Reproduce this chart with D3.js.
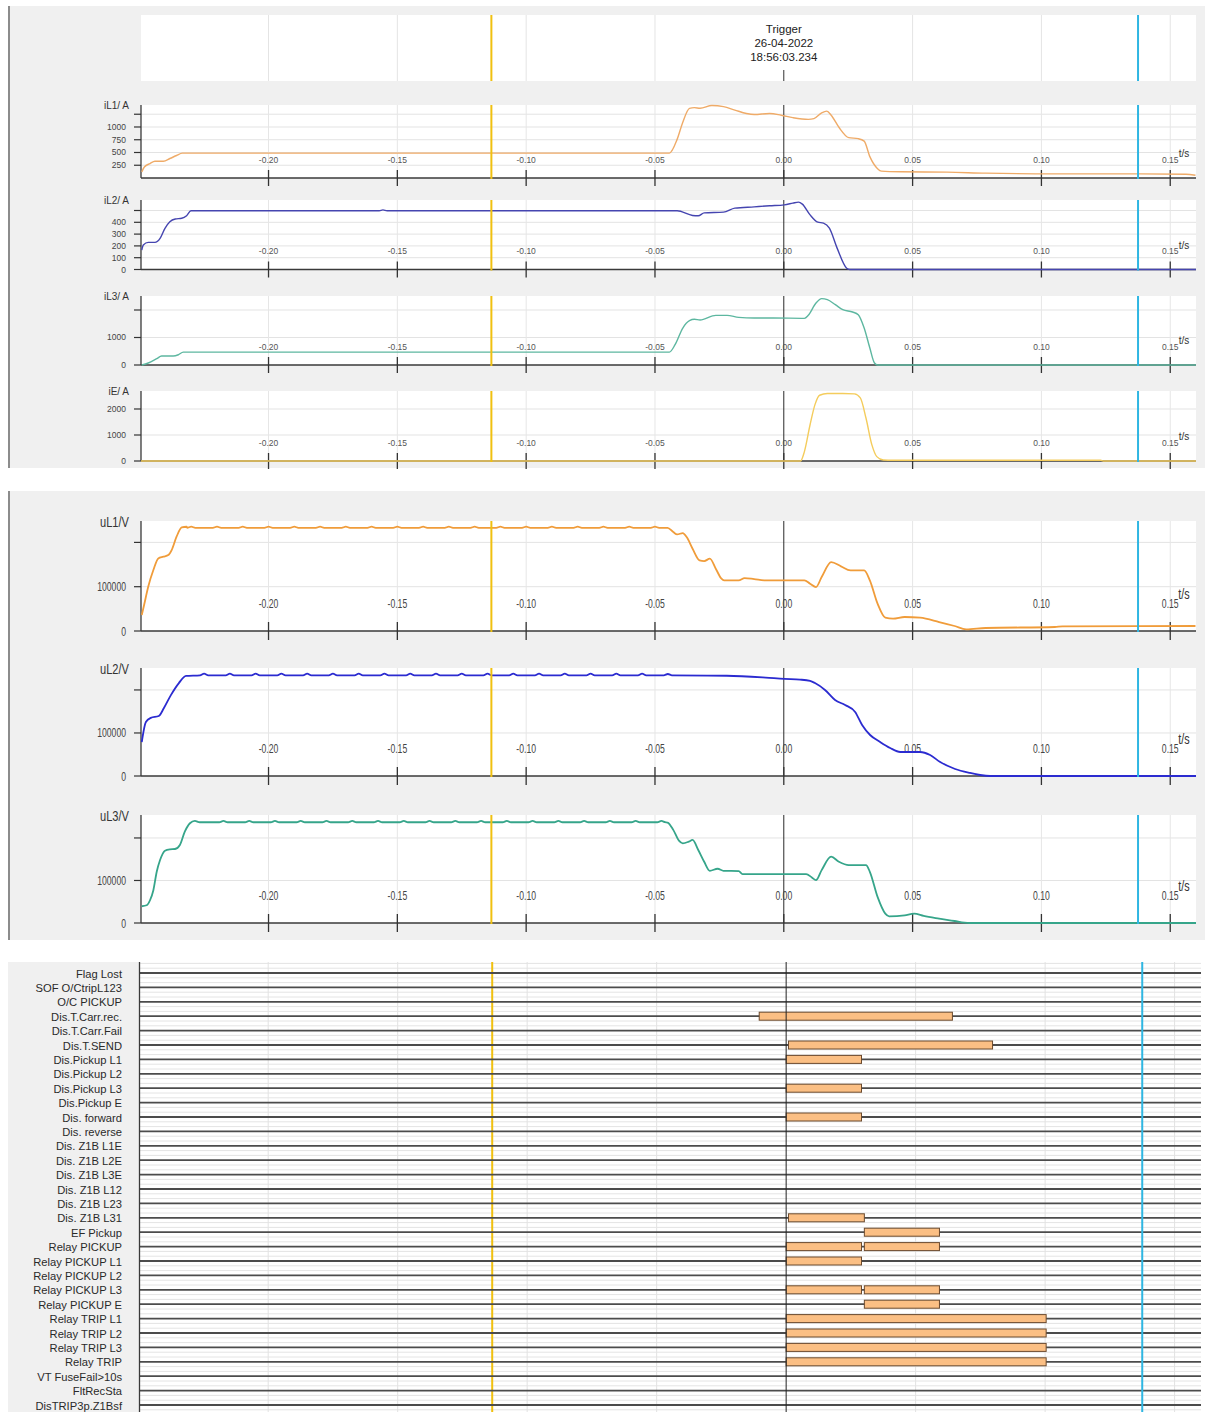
<!DOCTYPE html>
<html><head><meta charset="utf-8">
<script src="https://cdn.jsdelivr.net/npm/d3@7"></script>
<style>
body{margin:0;background:#fff}
svg{display:block;font-family:Arial,"Liberation Sans",Helvetica,sans-serif}
</style>
</head><body>
<svg id="rec" width="1205" height="1412"></svg>
<script>
// ---- time axis (seconds relative to trigger) ----
const timeDomain = [-0.2495, 0.1600];
const timeTicks = [-0.20, -0.15, -0.10, -0.05, 0.00, 0.05, 0.10, 0.15];
const timeTickLabels = ["-0.20", "-0.15", "-0.10", "-0.05", "0.00", "0.05", "0.10", "0.15"];
const cursorYellow = -0.1135;
const cursorCyan = 0.1375;
const triggerLines = ["Trigger", "26-04-2022", "18:56:03.234"];

// ---- analog channels: [t (s), RMS value] ----
const iL1 = [[-0.2492,118],[-0.2482,217],[-0.2460,284],[-0.2441,329],[-0.2408,329],[-0.2383,382],[-0.2357,441],[-0.2335,488],
  [-0.0444,488],[-0.0414,757],[-0.0392,1095],[-0.0366,1366],[-0.0347,1379],[-0.0325,1366],[-0.0279,1420],[-0.0234,1399],
  [-0.0190,1332],[-0.0145,1264],[-0.0115,1244],[-0.0055,1264],[-0.0010,1230],[0.0035,1183],[0.0095,1149],[0.0117,1163],
  [0.0147,1278],[0.0167,1311],[0.0184,1230],[0.0214,994],[0.0252,791],[0.0289,771],[0.0312,723],[0.0334,419],[0.0364,183],
  [0.0379,135],[0.0454,122],[0.0633,115],[0.0783,95],[0.1052,81],[0.1381,81],[0.1561,74],[0.1598,54]];
const iL2 = [[-0.2492,165],[-0.2486,208],[-0.2467,230],[-0.2441,230],[-0.2421,264],[-0.2402,349],[-0.2383,405],[-0.2362,428],
  [-0.2337,434],[-0.2318,456],[-0.2301,498],[-0.1570,498],[-0.1556,505],[-0.1540,498],[-0.0414,498],[-0.0354,458],[-0.0332,455],
  [-0.0309,480],[-0.0234,486],[-0.0190,520],[-0.0115,531],[-0.0055,540],[0.0002,548],[0.0035,562],[0.0057,571],[0.0072,554],
  [0.0102,463],[0.0132,401],[0.0154,393],[0.0177,350],[0.0207,181],[0.0244,11],[0.0256,0],[0.1600,0]];
const iL3 = [[-0.2492,0],[-0.2467,72],[-0.2434,229],[-0.2415,325],[-0.2370,325],[-0.2350,373],[-0.2331,470],[-0.0444,470],
  [-0.0422,739],[-0.0392,1345],[-0.0366,1612],[-0.0347,1661],[-0.0325,1636],[-0.0264,1806],[-0.0220,1806],[-0.0175,1733],
  [-0.0115,1709],[-0.0040,1709],[0.0080,1697],[0.0095,1806],[0.0125,2255],[0.0147,2412],[0.0169,2376],[0.0200,2194],
  [0.0229,2012],[0.0267,1927],[0.0289,1830],[0.0312,1345],[0.0334,618],[0.0352,73],[0.0364,0],[0.1600,0]];
const iE = [[-0.2495,0],[0.0065,0],[0.0080,361],[0.0102,1394],[0.0121,2168],[0.0139,2529],[0.0169,2594],[0.0229,2594],
  [0.0274,2581],[0.0297,2426],[0.0319,1652],[0.0342,619],[0.0361,168],[0.0386,39],[0.0424,26],[0.1230,26],[0.1240,0],[0.1600,0]];
const uL1 = [[-0.2492,36000],[-0.2483,58600],[-0.2467,100000],[-0.2447,137600],[-0.2428,163900],[-0.2408,167700],[-0.2389,171400],
  [-0.2376,182700],[-0.2357,212800],[-0.2337,233800],[-0.2318,235300],
  [-0.2316,233000],[-0.2300,235500],[-0.2284,233000],[-0.2216,233000],[-0.2200,235500],[-0.2184,233000],
  [-0.2116,233000],[-0.2100,235500],[-0.2084,233000],[-0.2016,233000],[-0.2000,235500],[-0.1984,233000],
  [-0.1916,233000],[-0.1900,235500],[-0.1884,233000],[-0.1816,233000],[-0.1800,235500],[-0.1784,233000],
  [-0.1716,233000],[-0.1700,235500],[-0.1684,233000],[-0.1616,233000],[-0.1600,235500],[-0.1584,233000],
  [-0.1516,233000],[-0.1500,235500],[-0.1484,233000],[-0.1416,233000],[-0.1400,235500],[-0.1384,233000],
  [-0.1316,233000],[-0.1300,235500],[-0.1284,233000],[-0.1216,233000],[-0.1200,235500],[-0.1184,233000],
  [-0.1116,233000],[-0.1100,235500],[-0.1084,233000],[-0.1016,233000],[-0.1000,235500],[-0.0984,233000],
  [-0.0916,233000],[-0.0900,235500],[-0.0884,233000],[-0.0816,233000],[-0.0800,235500],[-0.0784,233000],
  [-0.0716,233000],[-0.0700,235500],[-0.0684,233000],[-0.0616,233000],[-0.0600,235500],[-0.0584,233000],
  [-0.0516,233000],[-0.0500,235500],[-0.0484,233000],
  [-0.0451,233000],[-0.0429,223300],[-0.0414,218000],[-0.0392,221000],[-0.0377,212000],[-0.0354,185700],[-0.0327,159400],
  [-0.0309,157900],[-0.0287,163200],[-0.0264,140600],[-0.0242,118000],[-0.0232,114300],[-0.0175,114300],[-0.0152,119500],
  [-0.0115,117300],[-0.0070,114300],[0.0080,114300],[0.0102,106800],[0.0125,99200],[0.0147,121800],[0.0184,155600],
  [0.0222,145900],[0.0259,136800],[0.0312,136800],[0.0334,114300],[0.0364,61650],[0.0394,30080],[0.0424,27800],
  [0.0469,31580],[0.0529,30080],[0.0603,20300],[0.0663,11280],[0.0708,3760],[0.0783,6770],[0.1052,9020],[0.1082,10500],
  [0.1598,11280]];
const uL2 = [[-0.2492,79000],[-0.2476,125600],[-0.2457,135000],[-0.2426,139500],[-0.2406,158000],[-0.2379,188000],
  [-0.2348,216000],[-0.2320,232500],
  [-0.2266,234000],[-0.2250,238000],[-0.2234,234000],[-0.2166,234000],[-0.2150,238000],[-0.2134,234000],
  [-0.2066,234000],[-0.2050,238000],[-0.2034,234000],[-0.1966,234000],[-0.1950,238000],[-0.1934,234000],
  [-0.1866,234000],[-0.1850,238000],[-0.1834,234000],[-0.1766,234000],[-0.1750,238000],[-0.1734,234000],
  [-0.1666,234000],[-0.1650,238000],[-0.1634,234000],[-0.1566,234000],[-0.1550,238000],[-0.1534,234000],
  [-0.1466,234000],[-0.1450,238000],[-0.1434,234000],[-0.1366,234000],[-0.1350,238000],[-0.1334,234000],
  [-0.1266,234000],[-0.1250,238000],[-0.1234,234000],[-0.1166,234000],[-0.1150,238000],[-0.1134,234000],
  [-0.1066,234000],[-0.1050,238000],[-0.1034,234000],[-0.0966,234000],[-0.0950,238000],[-0.0934,234000],
  [-0.0866,234000],[-0.0850,238000],[-0.0834,234000],[-0.0766,234000],[-0.0750,238000],[-0.0734,234000],
  [-0.0666,234000],[-0.0650,238000],[-0.0634,234000],[-0.0566,234000],[-0.0550,238000],[-0.0534,234000],
  [-0.0466,234000],[-0.0450,237000],[-0.0434,234000],
  [-0.0221,233000],[-0.0070,228600],[0.0002,225600],[0.0063,224000],[0.0102,221000],[0.0121,216000],[0.0160,200000],
  [0.0199,176700],[0.0238,165000],[0.0277,148800],[0.0304,118600],[0.0335,95300],[0.0374,79000],[0.0413,65000],
  [0.0452,55800],[0.0529,55800],[0.0568,48800],[0.0607,32500],[0.0665,16300],[0.0723,7000],[0.0762,2300],[0.0801,0],[0.1600,0]];
const uL3 = [[-0.2492,39400],[-0.2473,41700],[-0.2460,53500],[-0.2447,77200],[-0.2434,120500],[-0.2421,148000],[-0.2402,170000],
  [-0.2383,173200],[-0.2363,174000],[-0.2344,183500],[-0.2325,215000],[-0.2305,234600],[-0.2286,240200],[-0.2267,237000],
  [-0.2191,237000],[-0.2175,240000],[-0.2159,237000],[-0.2091,237000],[-0.2075,240000],[-0.2059,237000],
  [-0.1991,237000],[-0.1975,240000],[-0.1959,237000],[-0.1891,237000],[-0.1875,240000],[-0.1859,237000],
  [-0.1791,237000],[-0.1775,240000],[-0.1759,237000],[-0.1691,237000],[-0.1675,240000],[-0.1659,237000],
  [-0.1591,237000],[-0.1575,240000],[-0.1559,237000],[-0.1491,237000],[-0.1475,240000],[-0.1459,237000],
  [-0.1391,237000],[-0.1375,240000],[-0.1359,237000],[-0.1291,237000],[-0.1275,240000],[-0.1259,237000],
  [-0.1191,237000],[-0.1175,240000],[-0.1159,237000],[-0.1091,237000],[-0.1075,240000],[-0.1059,237000],
  [-0.0991,237000],[-0.0975,240000],[-0.0959,237000],[-0.0891,237000],[-0.0875,240000],[-0.0859,237000],
  [-0.0791,237000],[-0.0775,240000],[-0.0759,237000],[-0.0691,237000],[-0.0675,240000],[-0.0659,237000],
  [-0.0591,237000],[-0.0575,240000],[-0.0559,237000],[-0.0491,237000],[-0.0475,240000],[-0.0461,237000],
  [-0.0451,236000],[-0.0429,219000],[-0.0407,193700],[-0.0392,187400],[-0.0369,191300],[-0.0354,195300],[-0.0332,171700],
  [-0.0309,144100],[-0.0287,122800],[-0.0257,127600],[-0.0234,122800],[-0.0175,122000],[-0.0160,115000],[0.0087,115000],
  [0.0109,107100],[0.0125,100800],[0.0147,124400],[0.0184,155900],[0.0214,144100],[0.0252,136200],[0.0319,136200],
  [0.0334,120500],[0.0364,61400],[0.0394,22000],[0.0409,15700],[0.0469,18100],[0.0506,22000],[0.0543,16500],[0.0603,10200],
  [0.0663,4700],[0.0701,800],[0.0720,0],[0.1600,0]];

// ---- binary signals ----
const digitalLabels = ["Flag Lost","SOF O/CtripL123","O/C PICKUP","Dis.T.Carr.rec.","Dis.T.Carr.Fail","Dis.T.SEND",
  "Dis.Pickup L1","Dis.Pickup L2","Dis.Pickup L3","Dis.Pickup E","Dis. forward","Dis. reverse","Dis. Z1B L1E",
  "Dis. Z1B L2E","Dis. Z1B L3E","Dis. Z1B L12","Dis. Z1B L23","Dis. Z1B L31","EF Pickup","Relay PICKUP",
  "Relay PICKUP L1","Relay PICKUP L2","Relay PICKUP L3","Relay PICKUP E","Relay TRIP L1","Relay TRIP L2",
  "Relay TRIP L3","Relay TRIP","VT FuseFail>10s","FltRecSta","DisTRIP3p.Z1Bsf"];
const digitalSignals = ["Dis.T.Carr.rec.","Dis.T.SEND","Dis.Pickup L1","Dis.Pickup L3","Dis. forward","Dis. Z1B L31",
  "EF Pickup","Relay PICKUP","Relay PICKUP","Relay PICKUP L1","Relay PICKUP L3","Relay PICKUP L3","Relay PICKUP E",
  "Relay TRIP L1","Relay TRIP L2","Relay TRIP L3","Relay TRIP"];
const digitalStart = [-0.0104,0.0009,0.0000,0.0000,0.0000,0.0009,0.0302,0.0000,0.0302,0.0000,0.0000,0.0302,0.0302,
  0.0000,0.0000,0.0000,0.0000];
const digitalEnd = [0.0642,0.0797,0.0291,0.0291,0.0291,0.0302,0.0592,0.0291,0.0592,0.0291,0.0291,0.0592,0.0592,
  0.1004,0.1004,0.1004,0.1004];

// ---- drawing ----
const svg = d3.select("#rec");
const W = 1205;
const xA = d3.scaleLinear().domain(timeDomain).range([141, 1196]);
const xD = d3.scaleLinear().domain(timeDomain).range([140, 1200.5]);
const PL = 141, PR = 1196;

function txt(g, x, y, s, o = {}) {
  const t = g.append("text")
    .attr("transform", `translate(${x},${y}) scale(${o.sx || 1},1)`)
    .attr("text-anchor", o.anchor || "middle")
    .attr("font-size", o.size || 9)
    .attr("fill", o.fill || "#333")
    .text(s);
  if (o.weight) t.attr("font-weight", o.weight);
  return t;
}
function vline(g, x, y1, y2, stroke, w) {
  g.append("line").attr("x1", x).attr("x2", x).attr("y1", y1).attr("y2", y2)
    .attr("stroke", stroke).attr("stroke-width", w);
}
function hline(g, y, x1, x2, stroke, w) {
  g.append("line").attr("x1", x1).attr("x2", x2).attr("y1", y).attr("y2", y)
    .attr("stroke", stroke).attr("stroke-width", w);
}

// section backgrounds
const bg = svg.append("g");
bg.append("rect").attr("x", 8).attr("y", 6).attr("width", W - 8).attr("height", 462).attr("fill", "#f0f0f0");
bg.append("rect").attr("x", 8).attr("y", 491).attr("width", W - 8).attr("height", 449).attr("fill", "#f0f0f0");
vline(bg, 9, 6, 468, "#8c8c8c", 2);
vline(bg, 9, 491, 940, "#8c8c8c", 2);

// header strip with trigger time stamp
const hdr = svg.append("g");
hdr.append("rect").attr("x", PL).attr("y", 15).attr("width", PR - PL).attr("height", 66).attr("fill", "#fff");
timeTicks.forEach(t => { if (t !== 0) vline(hdr, xA(t), 15, 81, "#e4e4e4", 1); });
vline(hdr, xA(0), 70, 81, "#333", 1);
triggerLines.forEach((s, i) => txt(hdr, xA(0), 33 + i * 14, s, { size: 11.5, fill: "#222" }));
vline(hdr, xA(cursorYellow), 15, 81, "#f0c010", 2);
vline(hdr, xA(cursorCyan), 15, 81, "#2fb6e2", 2);

// analog panels
const panels = [
  { name: "iL1/ A", data: iL1, color: "#efab68", w: 1.4, top: 105, axis: 178, yMax: 1431,
    ticks: [250, 500, 750, 1000, 1250], labels: ["250", "500", "750", "1000", ""], big: false },
  { name: "iL2/ A", data: iL2, color: "#4545b0", w: 1.4, top: 200, axis: 269.5, yMax: 589,
    ticks: [0, 100, 200, 300, 400, 500], labels: ["0", "100", "200", "300", "400", ""], big: false },
  { name: "iL3/ A", data: iL3, color: "#5db7a0", w: 1.4, top: 296, axis: 365, yMax: 2509,
    ticks: [0, 1000, 2000], labels: ["0", "1000", ""], big: false },
  { name: "iE/ A", data: iE, color: "#f4cc5c", w: 1.4, top: 391, axis: 461, yMax: 2692,
    ticks: [0, 1000, 2000], labels: ["0", "1000", "2000"], big: false },
  { name: "uL1/V", data: uL1, color: "#f09c3a", w: 1.8, top: 521, axis: 631, yMax: 248300,
    ticks: [0, 100000, 200000], labels: ["0", "100000", ""], big: true },
  { name: "uL2/V", data: uL2, color: "#2b2bd0", w: 1.8, top: 668, axis: 776, yMax: 251000,
    ticks: [0, 100000, 200000], labels: ["0", "100000", ""], big: true },
  { name: "uL3/V", data: uL3, color: "#36a58a", w: 1.8, top: 815, axis: 923, yMax: 254000,
    ticks: [0, 100000, 200000], labels: ["0", "100000", ""], big: true }
];

panels.forEach((p, pi) => {
  const g = svg.append("g");
  const y = d3.scaleLinear().domain([0, p.yMax]).range([p.axis, p.top]);
  g.append("rect").attr("x", PL).attr("y", p.top).attr("width", PR - PL).attr("height", p.axis - p.top).attr("fill", "#fff");
  p.ticks.forEach(v => { if (v > 0) hline(g, y(v), PL, PR, "#e3e3e3", 1); });
  timeTicks.forEach(t => { if (t !== 0) vline(g, xA(t), p.top, p.axis, "#e6e6e6", 1); });
  vline(g, xA(0), p.top, p.axis, "#2a2a2a", 1);

  // time labels inside the plot
  const ts = p.big ? { size: 12, sx: 0.72, fill: "#444" } : { size: 8.5, fill: "#555" };
  const ly = p.big ? p.axis - 23 : p.axis - 15.5;
  timeTicks.forEach((t, i) => txt(g, xA(t), ly, timeTickLabels[i], ts));
  txt(g, 1184, p.big ? p.axis - 32 : p.axis - 21, "t/s",
    p.big ? { size: 15, sx: 0.72, fill: "#333" } : { size: 10, fill: "#333" });

  // trace clip
  const cid = "clip" + pi;
  svg.append("clipPath").attr("id", cid).append("rect")
    .attr("x", PL).attr("y", p.top - 2).attr("width", PR - PL).attr("height", p.axis - p.top + 4);
  const line = d3.line().x(d => xA(d[0])).y(d => y(d[1])).curve(d3.curveMonotoneX);

  // axes
  hline(g, p.axis, PL, PR, "#3a3a3a", 1.6);
  vline(g, PL, p.top, p.axis, "#3a3a3a", 1.3);
  timeTicks.forEach(t => vline(g, xA(t), p.axis - (p.big ? 9 : 8), p.axis + (p.big ? 9 : 8), "#333", 1.3));
  p.ticks.forEach((v, i) => {
    hline(g, y(v), PL - 7, PL, "#333", 1.2);
    if (p.labels[i]) txt(g, 126, y(v) + (p.big ? 4.5 : 3), p.labels[i],
      p.big ? { size: 12, sx: 0.72, anchor: "end", fill: "#444" } : { size: 8.5, anchor: "end", fill: "#444" });
  });
  txt(g, 129, p.top + (p.big ? 6 : 4), p.name,
    p.big ? { size: 15, sx: 0.74, anchor: "end", fill: "#333" } : { size: 10, anchor: "end", fill: "#333" });

  g.append("path").datum(p.data).attr("clip-path", `url(#${cid})`)
    .attr("fill", "none").attr("stroke", p.color).attr("stroke-width", p.w).attr("d", line);

  // cursors on top
  vline(g, xA(cursorYellow), p.top, p.axis + 1, "#f0c010", 2);
  vline(g, xA(cursorCyan), p.top, p.axis + 1, "#2fb6e2", 2);
});

// binary signal section
const dg = svg.append("g");
const D_TOP = 962, D_BOT = 1412, D_L = 139.5, D_R = 1201;
dg.append("rect").attr("x", 8).attr("y", D_TOP).attr("width", D_L - 8).attr("height", D_BOT - D_TOP).attr("fill", "#f0f0f0");
const rowY = d3.scalePoint().domain(digitalLabels).range([973, 973 + 14.4 * (digitalLabels.length - 1)]);
const step = 14.4;
for (let yy = 973 - step; yy < D_BOT; yy += step) {
  [step / 3, 2 * step / 3].forEach(o => { if (yy + o > D_TOP && yy + o < D_BOT) hline(dg, yy + o, D_L, D_R, "#e4e4e4", 1); });
}
timeTicks.forEach(t => { if (t !== 0) vline(dg, xD(t), D_TOP, D_BOT, "#e2e2e2", 1); });
vline(dg, xD(cursorYellow), D_TOP, D_BOT, "#f0c010", 2);
digitalLabels.forEach(s => {
  hline(dg, rowY(s), D_L, D_R, "#4c4c4c", 1.8);
  txt(dg, 122, rowY(s) + 4.5, s, { size: 11.8, sx: 0.95, anchor: "end", fill: "#2a2a2a" });
});
digitalSignals.forEach((s, i) => {
  dg.append("rect")
    .attr("x", xD(digitalStart[i])).attr("y", rowY(s) - 4)
    .attr("width", xD(digitalEnd[i]) - xD(digitalStart[i])).attr("height", 8)
    .attr("fill", "#fbbf84").attr("stroke", "#6b4a2e").attr("stroke-width", 1);
});
vline(dg, D_L, D_TOP, D_BOT, "#3a3a3a", 1.3);
vline(dg, xD(0), D_TOP, D_BOT, "#222", 1);
vline(dg, xD(cursorCyan), D_TOP, D_BOT, "#2fb6e2", 2);
</script>
</body></html>
